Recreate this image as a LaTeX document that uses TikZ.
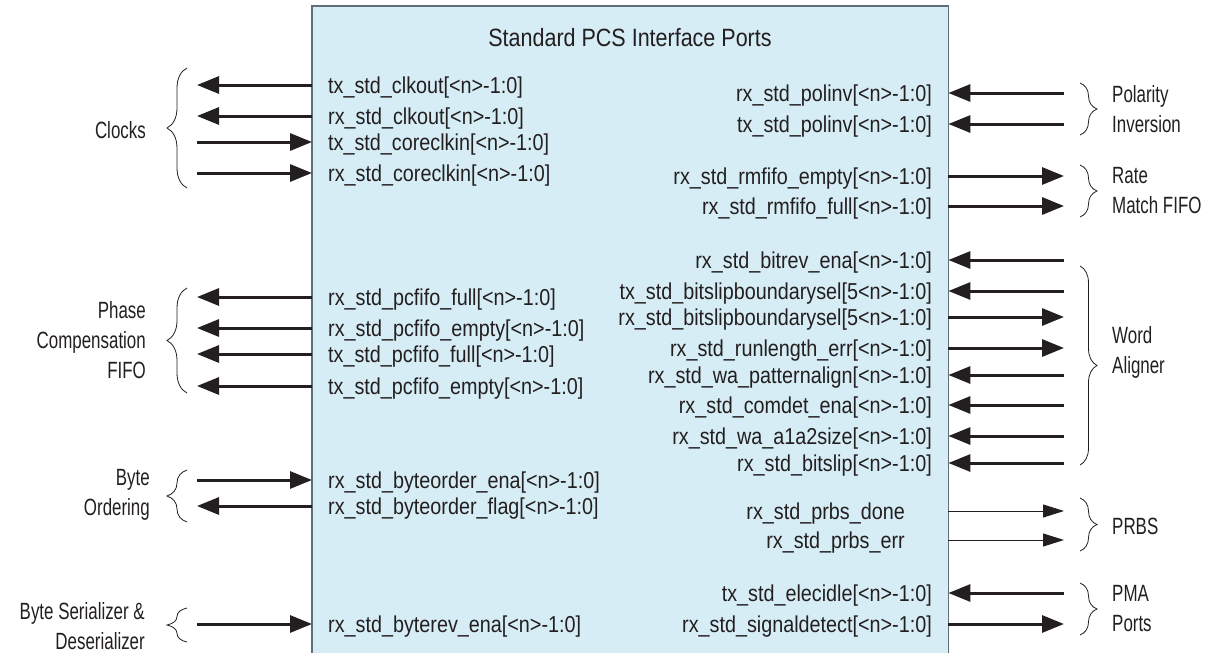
\documentclass[tikz,border=0pt]{standalone}
\usepackage{fontspec}
\setmainfont{Liberation Sans}[FakeStretch=0.86]
\newfontfamily\grpfont{Liberation Sans}[FakeStretch=0.72]
\usetikzlibrary{arrows.meta,decorations.pathreplacing}
\definecolor{boxfill}{RGB}{214,237,245}
\definecolor{boxline}{RGB}{95,110,120}
\definecolor{ink}{RGB}{35,31,32}
\tikzset{
  sigout/.style={draw=ink, line width=3pt, -{Triangle[length=22pt,width=17pt]}},
  sigin/.style={draw=ink, line width=3pt, {Triangle[length=22pt,width=17pt]}-},
  sigthin/.style={draw=ink, line width=1pt, -{Triangle[length=21pt,width=13pt]}},
  lbl/.style={font=\fontsize{23}{30}\selectfont, inner sep=0pt, text=ink},
  grp/.style={font=\grpfont\fontsize{23.5}{30}\selectfont, inner sep=0pt, text=ink},
  grpl/.style={grp, align=right, anchor=east},
  grpr/.style={grp, align=left, anchor=west},
  lbrace/.style={draw=ink, line width=0.8pt, decorate, decoration={brace, amplitude=20pt}},
  rbrace/.style={draw=ink, line width=0.8pt, decorate, decoration={brace, amplitude=17pt}},
}
\begin{document}
\begin{tikzpicture}[x=1pt,y=-1pt]
\useasboundingbox (0,0) rectangle (1207,653);
\clip (0,0) rectangle (1207,653);
% main block
\node[fill=boxfill, minimum width=636pt, minimum height=664pt, inner sep=0pt, anchor=north west] (box) at (312,6) {};
\draw[boxline, line width=1.5pt] (box.south west) -- (box.north west) -- (box.north east) -- (box.south east);
\node[lbl, font=\fontsize{25}{30}\selectfont] (title) at (630,38) {Standard PCS Interface Ports};
% left side ports
\foreach \y/\t/\d in {
  85/{tx\_std\_clkout[<n>-1:0]}/out,
  116/{rx\_std\_clkout[<n>-1:0]}/out,
  142/{tx\_std\_coreclkin[<n>-1:0]}/in,
  173/{rx\_std\_coreclkin[<n>-1:0]}/in,
  297/{rx\_std\_pcfifo\_full[<n>-1:0]}/out,
  328/{rx\_std\_pcfifo\_empty[<n>-1:0]}/out,
  354/{tx\_std\_pcfifo\_full[<n>-1:0]}/out,
  386/{tx\_std\_pcfifo\_empty[<n>-1:0]}/out,
  480/{rx\_std\_byteorder\_ena[<n>-1:0]}/in,
  506/{rx\_std\_byteorder\_flag[<n>-1:0]}/out,
  624/{rx\_std\_byterev\_ena[<n>-1:0]}/in}{
  \node[lbl, anchor=base west] (L\y) at (328,\y+8) {\t};
  \coordinate (LE\y) at (197,\y);
  \draw[sig\d] (box.west |- LE\y) -- (LE\y);
}
% right side ports
\foreach \y/\t/\d in {
  93/{rx\_std\_polinv[<n>-1:0]}/in,
  124/{tx\_std\_polinv[<n>-1:0]}/in,
  176/{rx\_std\_rmfifo\_empty[<n>-1:0]}/out,
  206/{rx\_std\_rmfifo\_full[<n>-1:0]}/out,
  260/{rx\_std\_bitrev\_ena[<n>-1:0]}/in,
  291/{tx\_std\_bitslipboundarysel[5<n>-1:0]}/in,
  317/{rx\_std\_bitslipboundarysel[5<n>-1:0]}/out,
  348/{rx\_std\_runlength\_err[<n>-1:0]}/out,
  375/{rx\_std\_wa\_patternalign[<n>-1:0]}/in,
  405/{rx\_std\_comdet\_ena[<n>-1:0]}/in,
  436/{rx\_std\_wa\_a1a2size[<n>-1:0]}/in,
  463/{rx\_std\_bitslip[<n>-1:0]}/in,
  593/{tx\_std\_elecidle[<n>-1:0]}/in,
  624/{rx\_std\_signaldetect[<n>-1:0]}/out}{
  \node[lbl, anchor=base east] (R\y) at (932,\y+8) {\t};
  \coordinate (RE\y) at (1064,\y);
  \draw[sig\d] (box.east |- RE\y) -- (RE\y);
}
% PRBS (thin)
\foreach \y/\t in {511/{rx\_std\_prbs\_done}, 540/{rx\_std\_prbs\_err}}{
  \node[lbl, anchor=base east] (R\y) at (905,\y+8) {\t};
  \coordinate (RE\y) at (1064,\y);
  \draw[sigthin] (box.east |- RE\y) -- (RE\y);
}
% left braces and group labels
\draw[lbrace] (187,188) -- (187,68);
\draw[lbrace] (187,393) -- (187,288);
\draw[lbrace] (187,522) -- (187,470);
\draw[lbrace] (187,642) -- (187,608);
\node[grpl] (gclk) at (146,130) {Clocks};
\node[grpl] (gpc) at (146,340) {Phase\\Compensation\\FIFO};
\node[grpl] (gbo) at (150,495) {Byte\\Ordering};
\node[grpl] (gbs) at (145,626) {Byte Serializer \&\\Deserializer};
% right braces and group labels
\draw[rbrace] (1080,83) -- (1080,135);
\draw[rbrace] (1080,165) -- (1080,217);
\draw[rbrace] (1080,266) -- (1080,465);
\draw[rbrace] (1080,498) -- (1080,551);
\draw[rbrace] (1080,583) -- (1080,635);
\node[grpr] (gpol) at (1112,109) {Polarity\\Inversion};
\node[grpr] (grm) at (1112,191) {Rate\\Match FIFO};
\node[grpr] (gwa) at (1112,352) {Word\\Aligner};
\node[grpr] (gprbs) at (1112,526) {PRBS};
\node[grpr] (gpma) at (1112,609) {PMA\\Ports};
\end{tikzpicture}
\end{document}
